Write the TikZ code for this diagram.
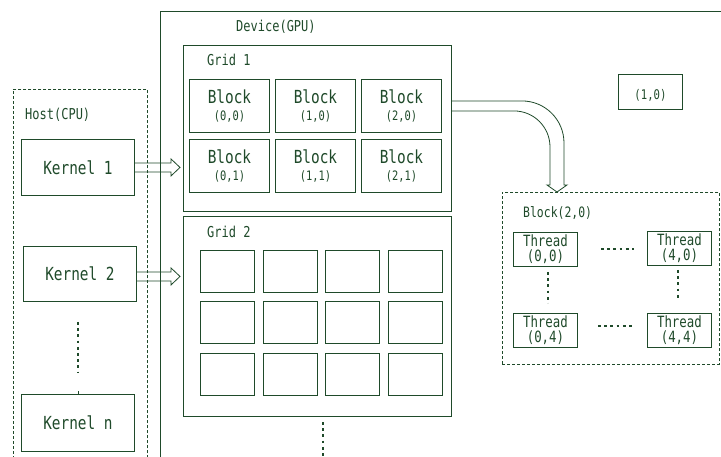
\documentclass[tikz,border=0pt]{standalone}
\usepackage{fontspec}
\setmainfont{DejaVu Sans Mono}[FakeStretch=0.8]
\usepackage{tikz}
\usetikzlibrary{arrows.meta,positioning,calc}
\definecolor{ink}{HTML}{1F4A2A}
\newcommand{\bigfont}{\fontsize{18}{20}\selectfont}
\newcommand{\midfont}{\fontsize{15.5}{17}\selectfont}
\newcommand{\smallfont}{\fontsize{15}{17}\selectfont}
\newcommand{\tinyfont}{\fontsize{13}{14}\selectfont}
\tikzset{
  hostbox/.style={draw=ink,line width=0.7pt,dash pattern=on 3pt off 2pt,
                  anchor=north west,inner sep=0pt},
  devbox/.style={draw=ink,line width=0.9pt,anchor=north west,inner sep=0pt},
  kernelbox/.style={draw=ink,line width=0.9pt,anchor=north west,
                    minimum width=113pt,minimum height=56pt,
                    font=\bigfont,text=ink},
  blockbox/.style={draw=ink,line width=0.9pt,anchor=north west,
                   minimum width=80pt,minimum height=53pt,inner sep=0pt,
                   align=center,font=\bigfont,text=ink},
  cellbox/.style={draw=ink,line width=0.9pt,anchor=north west,
                  minimum width=54pt,minimum height=42pt,inner sep=0pt},
  threadbox/.style={draw=ink,line width=0.9pt,anchor=north west,
                    minimum width=64pt,minimum height=34pt,inner sep=0pt,
                    align=center,font=\midfont,text=ink},
  titletext/.style={anchor=west,inner sep=0pt,text=ink,font=\smallfont},
  ellipsis/.style={draw=ink,line width=2.8pt,dash pattern=on 2.8pt off 3.4pt},
  blockarr/.style={draw=ink,line width=0.8pt,line join=miter,to path={
      ($(\tikztostart)+(0,-4.5)$) -- ($(\tikztotarget)+(-12,-4.5)$)
      -- ($(\tikztotarget)+(-12,-8.5)$) -- ($(\tikztotarget)+(-3,0)$)
      -- ($(\tikztotarget)+(-12,8.5)$) -- ($(\tikztotarget)+(-12,4.5)$)
      -- ($(\tikztostart)+(0,4.5)$)}},
  bendarr/.style={draw=ink,line width=0.8pt,to path={
      let \p1=(\tikztostart), \p2=(\tikztotarget) in
      (\x1,\y1+5pt) -- (\x2-35pt,\y1+5pt)
      arc[start angle=90,end angle=0,radius=42pt]
      -- (\x2+7pt,\y2+7pt) -- (\x2+10pt,\y2+7pt) -- (\x2,\y2)
      -- (\x2-10pt,\y2+7pt) -- (\x2-7pt,\y2+7pt)
      -- (\x2-7pt,\y1-41pt)
      arc[start angle=0,end angle=90,radius=36pt]
      -- (\x1,\y1-5pt)}}
}
\begin{document}
\begin{tikzpicture}[x=1pt,y=-1pt]
  \useasboundingbox (0,0) rectangle (721,457);
  \clip (0,0) rectangle (721,457);
  \node[hostbox,minimum width=134pt,minimum height=380pt] (host) at (13,89) {};
  \node[titletext] (hostlbl) at (25,115) {Host(CPU)};
  \node[kernelbox] (k1) at (21,139) {Kernel 1};
  \node[kernelbox,minimum height=55pt] (k2) at (23,246) {Kernel 2};
  \node[kernelbox,minimum height=57pt] (kn) at (21,394) {Kernel n};
  \draw[ellipsis] (78,322) -- (78,373);
  \draw[draw=ink,line width=0.6pt] (kn.north) -- ++(0,-3);

  \node[devbox,minimum width=600pt,minimum height=470pt] (dev) at (160,11) {};
  \node[titletext] (devlbl) at (236,27) {Device(GPU)};

  \node[devbox,minimum width=268pt,minimum height=166pt] (g1) at (183,45) {};
  \node[titletext] (g1lbl) at (207,60) {Grid 1};
  \foreach \i in {0,1,2}
    \foreach \j in {0,1}
      \node[blockbox] (b\i\j) at ({189+86*\i},{79+60*\j})
        {Block\\[-3pt]{\tinyfont(\i,\j)}};

  \node[devbox,minimum width=268pt,minimum height=200pt] (g2) at (183,216) {};
  \node[titletext] (g2lbl) at (207,232) {Grid 2};
  \foreach \i in {0,...,3}
    \foreach \j in {0,1,2}
      \node[cellbox] (c\i\j) at ({200+62.7*\i},{250+51.5*\j}) {};
  \draw[ellipsis] (323,422) -- (323,456);

  \node[hostbox,minimum width=217pt,minimum height=172pt] (blk) at (502,192) {};
  \node[titletext,font=\fontsize{14.3}{16}\selectfont] (blklbl) at (523,213) {Block(2,0)};
  \foreach \i/\j/\x/\y in {0/0/513/232,4/0/647/231,0/4/513/313,4/4/647/313}
    \node[threadbox] (t\i\j) at (\x,\y) {Thread\\[-2pt](\i,\j)};
  \draw[ellipsis,line width=2.4pt] (601,249) -- (634,249);
  \draw[ellipsis,line width=2.4pt] (598,326) -- (632,326);
  \draw[ellipsis,line width=2.4pt] (548,272) -- (548,303);
  \draw[ellipsis,line width=2.4pt] (678,270) -- (678,300);

  \node[cellbox,minimum width=64pt,minimum height=35pt,
        font=\fontsize{13.3}{15}\selectfont,text=ink]
    (ten) at (618,74) {\smash{\raisebox{-8pt}{(1,0)}}};

  \coordinate (drop) at (557,192);
  \draw[blockarr] (k1.east) to (k1.east -| g1.west);
  \draw[blockarr] ([yshift=-2.5pt]k2.east) to ([yshift=-2.5pt]k2.east -| g2.west);
  \draw[bendarr] (g1.east |- b20) to (drop);
\end{tikzpicture}
\end{document}
